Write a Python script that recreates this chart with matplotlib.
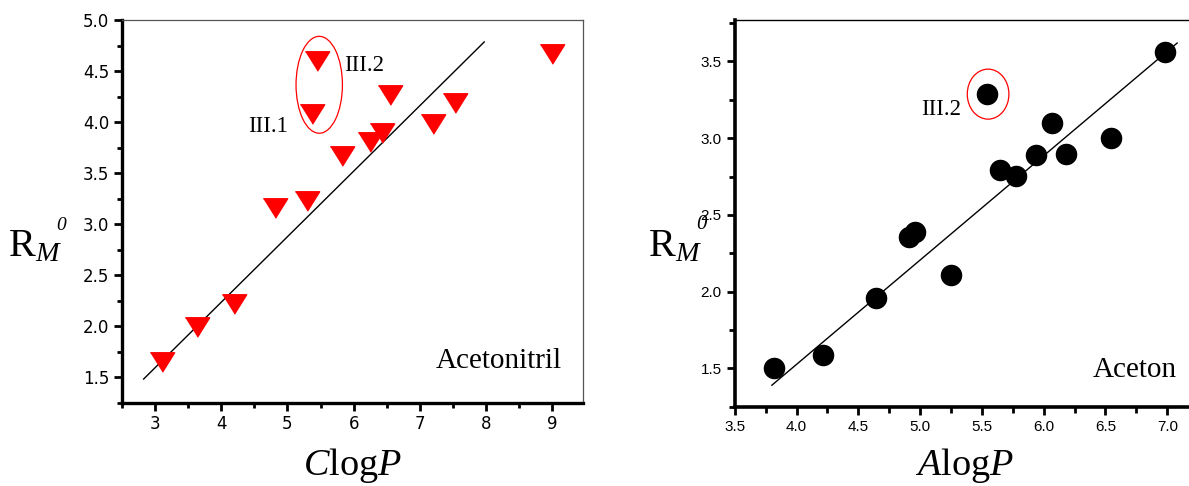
import matplotlib
matplotlib.use("Agg")
import matplotlib.pyplot as plt
from matplotlib.patches import Ellipse
from matplotlib.ticker import MultipleLocator, FormatStrFormatter

plt.rcParams["mathtext.fontset"] = "custom"
plt.rcParams["mathtext.rm"] = "Liberation Serif"
plt.rcParams["mathtext.it"] = "Liberation Serif:italic"
plt.rcParams["mathtext.bf"] = "Liberation Serif:bold"

# Acetonitrile: ClogP vs RM0
clogp = [3.10, 3.64, 4.20, 4.82, 5.29, 5.37, 5.45, 5.83, 6.25, 6.42, 6.55, 7.19, 7.53, 8.99]
rm_acn = [1.645, 1.995, 2.215, 3.155, 3.225, 4.075, 4.595, 3.665, 3.805, 3.895, 4.265, 3.985, 4.185, 4.665]
fit_acn_x = [2.83, 7.97]
fit_acn_y = [1.48, 4.785]

# Acetone: AlogP vs RM0
alogp = [3.82, 4.21, 4.64, 4.91, 4.96, 5.25, 5.54, 5.645, 5.775, 5.935, 6.065, 6.18, 6.545, 6.98]
rm_ace = [1.50, 1.59, 1.96, 2.355, 2.39, 2.11, 3.29, 2.79, 2.755, 2.89, 3.10, 2.90, 3.00, 3.56]
fit_ace_x = [3.80, 7.08]
fit_ace_y = [1.39, 3.62]

ylabel_txt = r"$\mathrm{R}_{M}$"
ylabel_sup = "0"

fig = plt.figure(figsize=(11.89, 4.86), dpi=100)

# ---------------- left panel ----------------
ax1 = fig.add_axes([0.1024, 0.1718, 0.3879, 0.9588 - 0.1718])
tri = [(-1, 0.8), (1, 0.8), (0, -0.8)]
ax1.plot(fit_acn_x, fit_acn_y, color="black", lw=1.0, zorder=2)
ax1.plot(clogp, rm_acn, linestyle="none", marker=tri, markersize=17.5,
         color="#ff0000", markeredgecolor="#ff0000", zorder=3)
ax1.add_patch(Ellipse((5.48, 4.365), 0.70, 0.95, fill=False,
                      edgecolor="#ff0000", lw=0.9, zorder=4))
ax1.text(5.86, 4.55, "III.2", family="Liberation Serif", fontsize=16.5,
         ha="left", va="center")
ax1.text(4.41, 3.96, "III.1", family="Liberation Serif", fontsize=16.5,
         ha="left", va="center")
ax1.text(9.14, 1.66, "Acetonitril", family="Liberation Serif", fontsize=21,
         ha="right", va="center")
ax1.set_xlim(2.5, 9.46)
ax1.set_ylim(1.25, 5.0)
ax1.xaxis.set_major_locator(MultipleLocator(1))
ax1.xaxis.set_minor_locator(MultipleLocator(0.5))
ax1.yaxis.set_major_locator(MultipleLocator(0.5))
ax1.yaxis.set_minor_locator(MultipleLocator(0.25))
ax1.yaxis.set_major_formatter(FormatStrFormatter("%.1f"))
ax1.tick_params(which="major", direction="out", length=5.5, width=2.0,
                labelsize=12)
ax1.tick_params(which="minor", direction="out", length=3.5, width=2.0)
for lab in ax1.get_xticklabels() + ax1.get_yticklabels():
    lab.set_family("DejaVu Sans")
for side in ("left", "bottom"):
    ax1.spines[side].set_linewidth(2.4)
for side in ("top", "right"):
    ax1.spines[side].set_linewidth(0.9)
    ax1.spines[side].set_color("#555555")
ax1.set_xlabel(r"$C\mathrm{log}P$", fontsize=27.5)
ax1.xaxis.set_label_coords(0.5, -0.165)
ax1.xaxis.label.set_va("center")
ax1.set_ylabel(ylabel_txt, fontsize=29, rotation=0, ha="center", va="center")
ax1.yaxis.set_label_coords(-0.188, 0.41)
ax1.text(-0.1316, 0.464, ylabel_sup, transform=ax1.transAxes,
         family="Liberation Serif", style="italic", fontsize=14,
         ha="center", va="center")

# ---------------- right panel ----------------
ax2 = fig.add_axes([0.618, 0.1632, 1.0 - 0.618, 0.9588 - 0.1632])
ax2.plot(fit_ace_x, fit_ace_y, color="black", lw=1.0, zorder=2)
ax2.plot(alogp, rm_ace, linestyle="none", marker="o", markersize=14.5,
         color="black", zorder=3)
ax2.add_patch(Ellipse((5.55, 3.287), 0.337, 0.326, fill=False,
                      edgecolor="#ff0000", lw=0.9, zorder=4))
ax2.text(5.01, 3.19, "III.2", family="Liberation Serif", fontsize=16.5,
         ha="left", va="center")
ax2.text(7.08, 1.49, "Aceton", family="Liberation Serif", fontsize=21,
         ha="right", va="center")
ax2.set_xlim(3.5, 7.176)
ax2.set_ylim(1.25, 3.77)
ax2.xaxis.set_major_locator(MultipleLocator(0.5))
ax2.xaxis.set_minor_locator(MultipleLocator(0.25))
ax2.yaxis.set_major_locator(MultipleLocator(0.5))
ax2.yaxis.set_minor_locator(MultipleLocator(0.25))
ax2.xaxis.set_major_formatter(FormatStrFormatter("%.1f"))
ax2.yaxis.set_major_formatter(FormatStrFormatter("%.1f"))
ax2.tick_params(which="major", direction="out", length=6, width=2.0,
                labelsize=11)
ax2.tick_params(which="minor", direction="out", length=4, width=2.0)
for lab in ax2.get_xticklabels() + ax2.get_yticklabels():
    lab.set_family("Liberation Sans")
for side in ("left", "bottom"):
    ax2.spines[side].set_linewidth(2.6)
ax2.spines["top"].set_linewidth(1.0)
ax2.spines["right"].set_visible(False)
ax2.set_xlabel(r"$A\mathrm{log}P$", fontsize=27.5)
ax2.xaxis.set_label_coords(0.505, -0.152)
ax2.xaxis.label.set_va("center")
ax2.set_ylabel(ylabel_txt, fontsize=29, rotation=0, ha="center", va="center")
ax2.yaxis.set_label_coords(-0.132, 0.417)
ax2.text(-0.0727, 0.47, ylabel_sup, transform=ax2.transAxes,
         family="Liberation Serif", style="italic", fontsize=15,
         ha="center", va="center")

fig.savefig("out.png", dpi=100)
